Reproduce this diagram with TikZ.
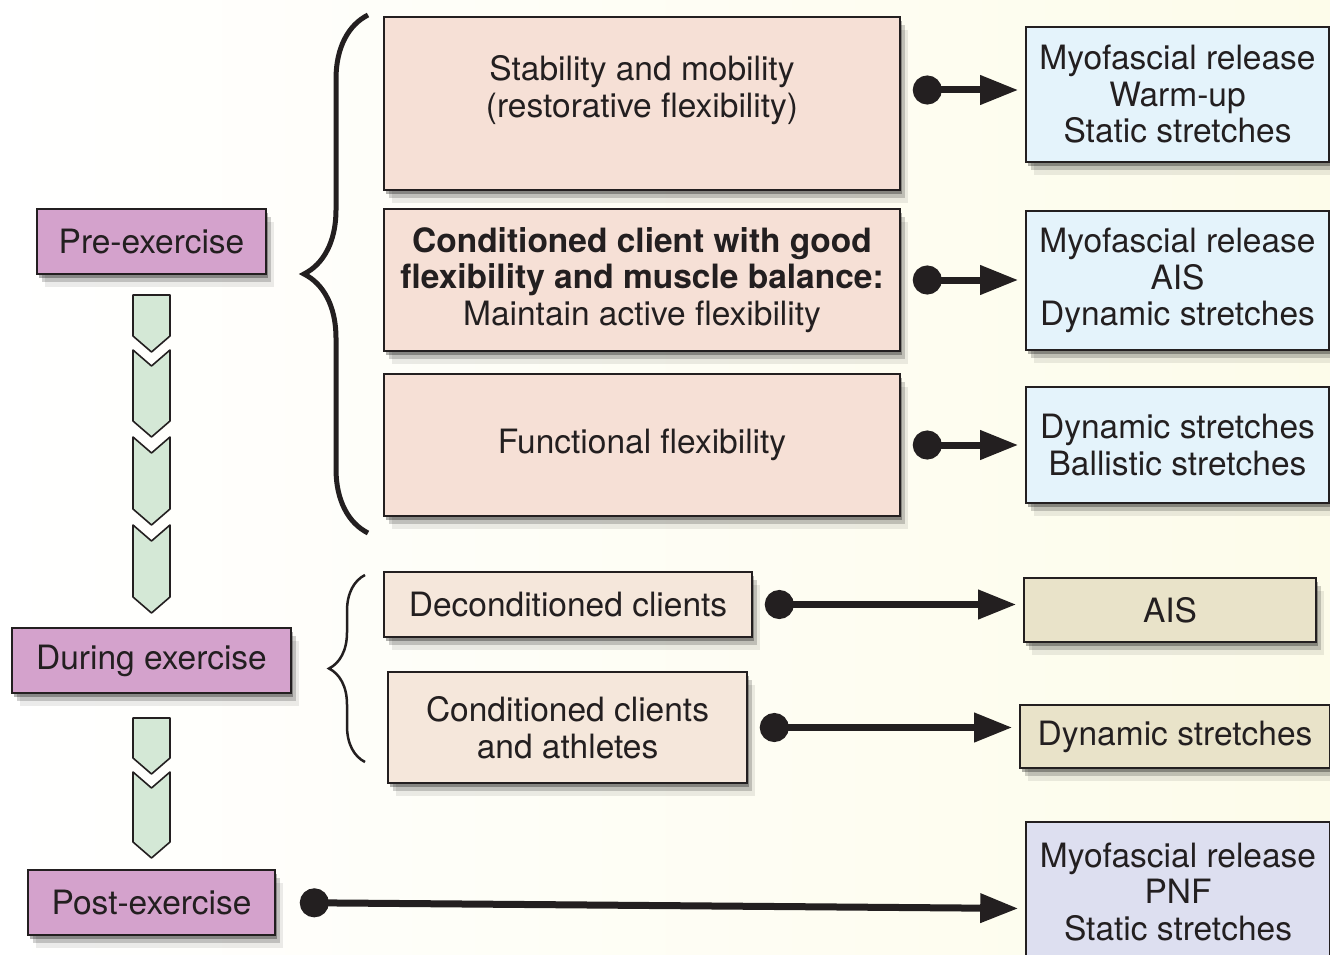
\documentclass[tikz,border=0pt]{standalone}
\usepackage{fontspec}
\setmainfont{TeX Gyre Heros}
\usetikzlibrary{arrows.meta,shadows,decorations.pathreplacing}

\definecolor{stagepink}{RGB}{212,162,204}
\definecolor{goalpeach}{RGB}{246,224,214}
\definecolor{clientbeige}{RGB}{245,231,219}
\definecolor{techblue}{RGB}{228,243,251}
\definecolor{techtan}{RGB}{233,227,201}
\definecolor{techlilac}{RGB}{221,223,240}
\definecolor{chevgreen}{RGB}{212,232,214}
\definecolor{inkgray}{RGB}{35,31,32}
\definecolor{papercream}{RGB}{253,252,234}

\begin{document}
\begin{tikzpicture}[x=1pt, y=-1pt,
        txt/.style={text=inkgray, align=center, font=\fontsize{33.5}{36.5}\selectfont},
        box/.style={txt, rectangle, draw=inkgray, line width=1.6pt, inner sep=0pt,
            drop shadow={shadow xshift=8pt, shadow yshift=-13pt, opacity=.08, fill=black},
            drop shadow={shadow xshift=5pt, shadow yshift=-8pt, opacity=.18, fill=black},
            drop shadow={shadow xshift=2pt, shadow yshift=-4pt, opacity=.3, fill=black}},
        stage/.style={box, fill=stagepink, minimum height=65pt},
        goal/.style={box, fill=goalpeach, minimum width=516pt},
        client/.style={box, fill=clientbeige},
        tech/.style={box, fill=techblue, minimum width=303pt},
        conn/.style={draw=inkgray, line width=7pt, {Circle[length=29pt]}-{Triangle[length=38pt,width=28pt]},
            shorten <=12pt, shorten >=7pt},
        chev/.style={draw=inkgray, line width=1.6pt, fill=chevgreen, line join=round},
        bracket/.style={decorate, decoration={brace, amplitude=#1}, draw=inkgray}
    ]
        \useasboundingbox (0,0) rectangle (1330,955);
        \shade[left color=white, right color=papercream] (0,0) rectangle (1330,955);

        % Stages
        \node[stage, minimum width=229pt] (pre) at (151.5,241.5) {Pre-exercise};
        \node[stage, minimum width=279pt] (during) at (151.5,660.5) {During exercise};
        \node[stage, minimum width=247pt] (post) at (151.5,902.5) {Post-exercise};

        % Chevrons between stages
        \draw[chev] (133,295) -- (170,295) -- (170,336) -- (151.5,352) -- (133,336) -- cycle;
        \draw[chev] (133,718) -- (170,718) -- (170,758) -- (151.5,774) -- (133,758) -- cycle;
        \foreach \ya/\yb in {350/437, 437/525, 525/613, 772/858}
            \draw[chev] (133,\ya) -- (151.5,\ya+16) -- (170,\ya) -- (170,\yb-16)
                -- (151.5,\yb) -- (133,\yb-16) -- cycle;

        % Braces
        \draw[bracket=64pt, line width=5pt] (368,533) -- (368,15);
        \draw[bracket=36pt, line width=2.5pt] (365,762) -- (365,575);

        % Pre-exercise goals
        \node[goal, minimum height=173pt] (stab) at (642,103.5) {};
        \node[txt] (stabtxt) at (642,90) {Stability and mobility\\(restorative flexibility)};
        \node[goal, minimum height=142pt] (cond) at (642,280)
            {\textbf{Conditioned client with good}\\\textbf{flexibility and muscle balance:}\\Maintain active flexibility};
        \node[goal, minimum height=142pt] (func) at (642,445) {Functional flexibility};

        % During exercise clients
        \node[client, minimum width=368pt, minimum height=65pt] (decond) at (568,604.5) {Deconditioned clients};
        \node[client, minimum width=359pt, minimum height=111pt] (athl) at (567.5,727.5) {Conditioned clients\\and athletes};

        % Techniques
        \node[tech, minimum height=135pt] (myo1) at (1177.5,94.5) {Myofascial release\\Warm-up\\Static stretches};
        \node[tech, minimum height=139pt] (myo2) at (1177.5,280.5) {Myofascial release\\AIS\\Dynamic stretches};
        \node[tech, minimum height=116pt] (dyn1) at (1177.5,445) {Dynamic stretches\\Ballistic stretches};
        \node[tech, fill=techtan, minimum width=292pt, minimum height=64pt] (ais) at (1170,610) {AIS};
        \node[tech, fill=techtan, minimum width=310pt, minimum height=63pt] (dyn2) at (1175,736.5) {Dynamic stretches};
        \node[tech, fill=techlilac, minimum width=304pt, minimum height=140pt] (pnf) at (1178,892) {Myofascial release\\PNF\\Static stretches};

        % Arrows
        \draw[conn] (stab.east |- stabtxt) -- (myo1.west |- stabtxt);
        \draw[conn] (cond.east) -- (myo2.west |- cond.east);
        \draw[conn] (func.east) -- (dyn1.west |- func.east);
        \draw[conn] (decond.east) -- (ais.west |- decond.east);
        \draw[conn] (athl.east) -- (dyn2.west |- athl.east);
        \draw[conn, shorten <=24pt] (post.east) -- ([yshift=-6pt]pnf.west |- post.east);
    \end{tikzpicture}
\end{document}
